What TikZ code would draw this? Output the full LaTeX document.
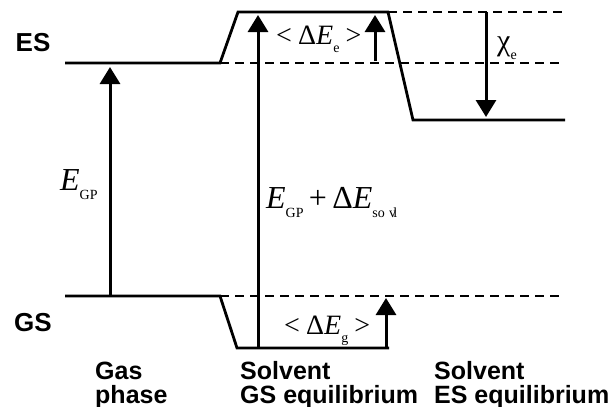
\documentclass[tikz,border=0pt]{standalone}
\usepackage{fontspec}
\setmainfont{Liberation Sans}
\newfontfamily\tms{Liberation Serif}
\usetikzlibrary{arrows.meta}
\newcommand\sbs[1]{\raisebox{-0.3em}{\fontsize{14}{14}\selectfont #1}}
\begin{document}
\begin{tikzpicture}[x=1pt,y=-1pt,
  lvl/.style={line width=2.8pt},
  dsh/.style={line width=1.4pt, dash pattern=on 9pt off 6pt},
  arr/.style={line width=3pt,-{Triangle[width=20pt,length=17pt]}},
  lab/.style={font=\fontsize{26}{26}\selectfont\bfseries, inner sep=0},
  captxt/.style={font=\fontsize{25}{25}\selectfont\bfseries, align=left, anchor=base west, inner sep=0},
  ml/.style={inner sep=0, anchor=base west, font=\tms\fontsize{32}{32}\selectfont},
  ms/.style={inner sep=0, anchor=base west, font=\tms\fontsize{28}{28}\selectfont}]
\useasboundingbox (0,0) rectangle (614,407);
% level points
\coordinate (eL) at (65,63);
\coordinate (eR) at (220,63);
\coordinate (gL) at (65,296);
\coordinate (gR) at (220,296);
\coordinate (tL) at (238,12);
\coordinate (tR) at (388,12);
\coordinate (sL) at (413,120);
\coordinate (sR) at (565,120);
\coordinate (bL) at (237,348);
\coordinate (bR) at (389,348);
\coordinate (d1) at (563,12);
\coordinate (d2) at (563,63);
\coordinate (d3) at (563,296);
% dashed references
\draw[dsh] (tR) -- (d1);
\draw[dsh] (eR) -- (d2);
\draw[dsh] (gR) -- (d3);
% levels
\draw[lvl] (eL) -- (eR) -- (tL) -- (tR) -- (sL) -- (sR);
\draw[lvl] (gL) -- (gR) -- (bL) -- (bR);
% arrow end points
\coordinate (a1s) at (110,296);
\coordinate (a1e) at (110,67);
\coordinate (a2s) at (258,348);
\coordinate (a2e) at (258,15);
\coordinate (a3s) at (375,61);
\coordinate (a3e) at (375,15);
\coordinate (a4s) at (386,348);
\coordinate (a4e) at (386,298);
\coordinate (a5s) at (486,12);
\coordinate (a5e) at (486,117);
\draw[arr] (a1s) -- (a1e);
\draw[arr] (a2s) -- (a2e);
\draw[arr] (a3s) -- (a3e);
\draw[arr] (a4s) -- (a4e);
\draw[arr] (a5s) -- (a5e);
% labels
\node[lab] (es) at (33,43) {ES};
\node[lab] (gs) at (33,323) {GS};
\node[ml] (egp) at (60,190) {\itshape E\upshape\sbs{GP}};
\node[ml] (etot) at (266,208) {\itshape E\upshape\sbs{GP}\,+\,Δ\itshape E\upshape\sbs{so\hspace{0.3em}v\hspace{-0.2em}l}};
\node[ms] (dee) at (276,44) {<\hspace{0.22em}Δ\itshape E\upshape\sbs{e}\hspace{0.22em}>};
\node[ms] (deg) at (284,334) {<\hspace{0.22em}Δ\itshape E\upshape\sbs{g}\hspace{0.22em}>};
\node[inner sep=0, anchor=base west, font=\tms\fontsize{30}{30}\selectfont] (chi) at (497,50) {χ\sbs{e}};
\node[captxt] (c1) at (95,379) {Gas};
\node[captxt] (c1b) at (95,403) {phase};
\node[captxt] (c2) at (240,379) {Solvent};
\node[captxt] (c2b) at (240,403) {GS equilibrium};
\node[captxt] (c3) at (434,379) {Solvent};
\node[captxt] (c3b) at (434,403) {ES equilibrium};
\end{tikzpicture}
\end{document}
